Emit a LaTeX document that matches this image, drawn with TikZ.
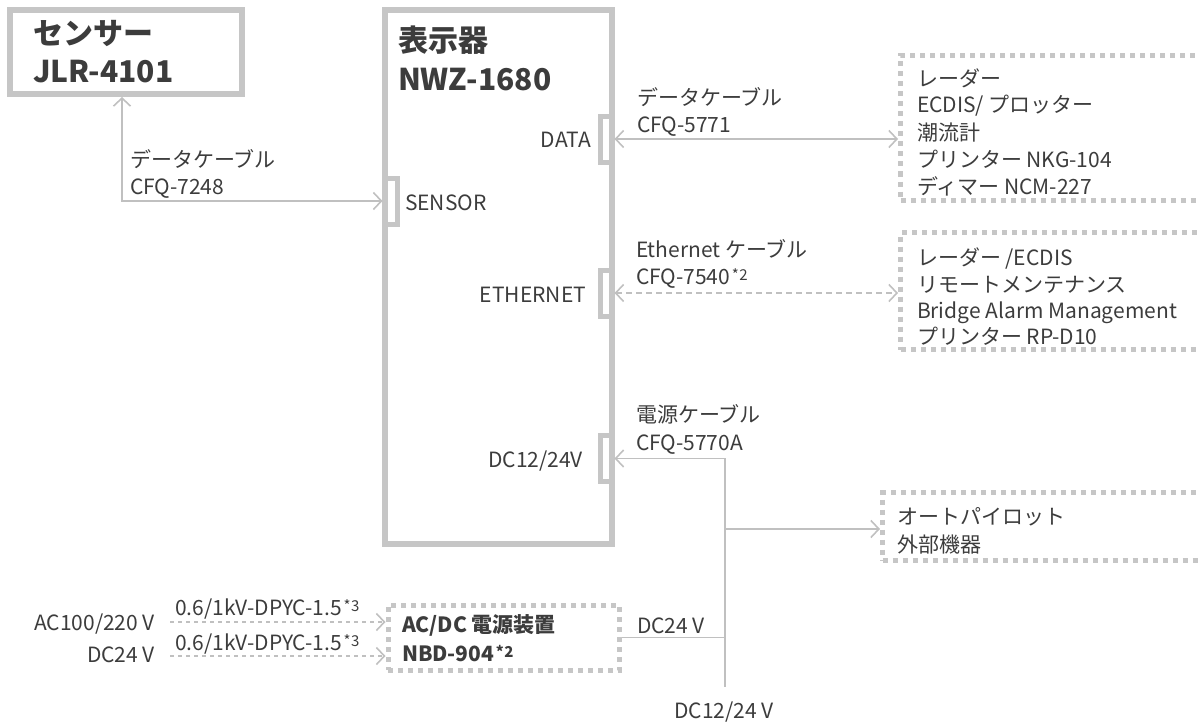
\documentclass[tikz,border=0pt]{standalone}
\usepackage{fontspec}
\setmainfont{Noto Sans CJK JP}
\usetikzlibrary{arrows.meta,calc}
\definecolor{txt}{HTML}{3C3C3C}
\definecolor{boxg}{HTML}{C6C6C6}
\definecolor{lineg}{HTML}{C0C0C0}
\newcommand\astsup[1]{\kern1.5pt\raisebox{4pt}{\fontsize{15}{15}\selectfont *\kern0.5pt#1}}
\begin{document}
\begin{tikzpicture}[x=1pt,y=-1pt,
  every node/.style={inner sep=0pt, outer sep=0pt, text=txt},
  lbl/.style={anchor=base west, font=\fontsize{21}{24}\selectfont},
  lble/.style={anchor=base east, font=\fontsize{21}{24}\selectfont},
  title/.style={anchor=base west, font=\fontsize{30}{34}\selectfont\bfseries},
  btitle/.style={anchor=base west, font=\fontsize{21}{24}\selectfont\bfseries},
  solidbox/.style={draw=boxg, line width=6pt, outer sep=3pt, rectangle},
  portbox/.style={draw=boxg, line width=5pt, outer sep=2.5pt, minimum width=11.5pt, minimum height=46pt, rectangle},
  dotbox/.style={draw=boxg, line width=5pt, dash pattern=on 5pt off 5pt, outer sep=2.5pt, rectangle},
  conn/.style={draw=lineg, line width=1.6pt},
  ethconn/.style={conn, dash pattern=on 6pt off 4pt},
  inconn/.style={conn, dash pattern=on 4pt off 4pt},
  >={Straight Barb[length=8pt,width=17pt]}
]
\useasboundingbox (0,0) rectangle (1200,725);

% boxes
\node[solidbox, minimum width=232pt, minimum height=84pt] (sensor) at (126,52) {};
\node[solidbox, minimum width=227pt, minimum height=534pt] (disp) at (498.5,277) {};
\node[portbox] (dataport) at (606.25,139) {};
\node[portbox, minimum width=12.5pt] (sensorport) at (391.25,201) {};
\node[portbox] (ethport) at (606.25,293) {};
\node[portbox] (dcport) at (606.25,458.5) {};
\node[dotbox, minimum width=314.5pt, minimum height=145pt] (box1) at (1057.75,128) {};
\node[dotbox, minimum width=314.5pt, minimum height=117pt] (box2) at (1057.75,291) {};
\node[dotbox, minimum width=332.5pt, minimum height=68pt] (box3) at (1048.75,526.5) {};
\node[dotbox, minimum width=231.5pt, minimum height=65pt] (nbd) at (503.75,637.5) {};

% titles
\node[title] (st1) at (34,45) {センサー};
\node[title] (st2) at (33,83) {JLR-4101};
\node[title] (dt1) at (398,52) {表示器};
\node[title] (dt2) at (398,90) {NWZ-1680};
\node[btitle] (nt1) at (402,632) {AC/DC 電源装置};
\node[btitle] (nt2) at (402,661) {NBD-904\astsup{2}};

% port labels
\node[lble] (ldata) at (591,147) {DATA};
\node[lbl] (lsensor) at (405,210) {SENSOR};
\node[lble] (leth) at (586,302) {ETHERNET};
\node[lble] (ldc) at (583,467) {DC12/24V};

% cable labels
\node[lbl] (c1a) at (130,167) {データケーブル};
\node[lbl] (c1b) at (130,194) {CFQ-7248};
\node[lbl] (c2a) at (637,106) {データケーブル};
\node[lbl] (c2b) at (637,132) {CFQ-5771};
\node[lbl] (c3a) at (636,257) {Ethernet ケーブル};
\node[lbl] (c3b) at (636,284) {CFQ-7540\astsup{2}};
\node[lbl] (c4a) at (636,422) {電源ケーブル};
\node[lbl] (c4b) at (636,450) {CFQ-5770A};
\node[lbl] (c5) at (637,633) {DC24 V};
\node[anchor=base, font=\fontsize{21}{24}\selectfont] (c6) at (724,718) {DC12/24 V};

% box texts
\node[lbl] (b1a) at (917,86) {レーダー};
\node[lbl] (b1b) at (917,113) {ECDIS/ プロッター};
\node[lbl] (b1c) at (917,140) {潮流計};
\node[lbl] (b1d) at (917,167) {プリンター NKG-104};
\node[lbl] (b1e) at (917,194) {ディマー NCM-227};
\node[lbl] (b2a) at (917,265) {レーダー /ECDIS};
\node[lbl] (b2b) at (917,292) {リモートメンテナンス};
\node[lbl] (b2c) at (917,318) {Bridge Alarm Management};
\node[lbl] (b2d) at (917,344) {プリンター RP-D10};
\node[lbl] (b3a) at (897,524) {オートパイロット};
\node[lbl] (b3b) at (897,552) {外部機器};

% inputs
\node[lble] (inac) at (155,630) {AC100/220 V};
\node[lble] (indc) at (155,662) {DC24 V};
\node[lbl] (ca1) at (175,615) {0.6/1kV-DPYC-1.5\astsup{3}};
\node[lbl] (ca2) at (175,650) {0.6/1kV-DPYC-1.5\astsup{3}};

% coordinates
\coordinate (j1) at (725,458.5);
\coordinate (j2) at (725,529);
\coordinate (jb) at (725,687);
\coordinate (acs) at (170,622);
\coordinate (dcs) at (170,656);

% connectors
\draw[conn,<->] ([xshift=-4pt]sensor.south) |- (sensorport.west);
\draw[conn,<->] (dataport.east) -- (dataport.east -| box1.west);
\draw[ethconn,<->] (ethport.east) -- (ethport.east -| box2.west);
\draw[conn,<-] (dcport.east) -- (j1) -- (jb);
\draw[conn,->] (j2) -- (j2 -| box3.west);
\draw[conn] (nbd.east) -- (nbd.east -| j1);
\draw[inconn,->] (acs) -- (acs -| nbd.west);
\draw[inconn,->] (dcs) -- (dcs -| nbd.west);
\end{tikzpicture}
\end{document}
